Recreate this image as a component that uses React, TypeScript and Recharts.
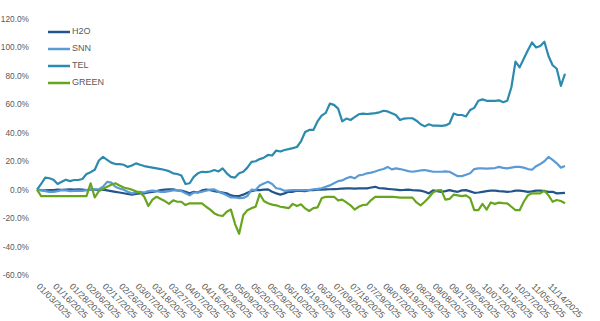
import React from "react";
import { LineChart, Line, XAxis, YAxis } from "recharts";

// values in % (daily points, one x label every 4 points)
const H2O = [
  0, -0.3, -0.5, -0.3, -0.3, 0, -0.2, 0, 0.2, 0,
  0.2, 0, -0.3, 0, 0, -0.3, 0, -0.5, -1, -1.5,
  -2, -2.5, -3, -3.5, -3, -2.6, -2.6, -2, -1.5, -1,
  -0.3, 0, 0.2, 0.2, -0.5, -0.7, -1.5, -2.6, -1.5, -2,
  -0.5, 0, -0.3, -1, -1.5, -2, -2.5, -4, -4.5, -4.5,
  -3.5, -2.2, -1, -0.3, -0.3, 0, 0.2, -1.5, -2.6, -3.5,
  -2.6, -1.5, -1.5, -0.7, -0.8, -1, -0.3, -0.3, 0, 0,
  0.2, 0.3, 0.4, 0.5, 0.8, 0.9, 0.9, 0.7, 0.9, 0.9,
  0.9, 1.5, 2, 1, 0.9, 0.5, 0.3, 0, -0.3, -0.2,
  0, -0.3, -0.5, -0.7, -1.5, -2.6, -0.5, -1, -1.5, -1,
  -0.3, -1, -1.5, -0.5, -0.3, -1.2, -2.2, -2, -1.5, -1,
  -0.7, -0.7, -1, -1.2, -1.5, -1.3, -0.7, -0.7, -1, -1.5,
  -1.2, -0.7, -0.7, -1, -1.5, -1.5, -2.6, -2.4, -2.2,
];

const SNN = [
  0, -0.5, -1, -1.5, -1.5, -1, -0.3, -0.5, -1, -0.8,
  -0.7, -0.8, -0.3, 0, 0.2, 0.4, 2, 5.5, 5, 2,
  0.8, 0, -1.5, -2.6, -2, -1.5, -2, -1, -0.7, -1,
  -1.5, -1.5, -1, -0.5, -0.3, -1, -2.6, -4, -2, -2,
  -1.5, -0.8, 0, 0.2, -1.5, -2.6, -4, -5.5, -5.5, -6,
  -5.8, -4.5, 0, -0.3, 3, 4.4, 5.5, 4, 1, 0.5,
  -0.8, -0.5, -0.3, -0.3, -0.3, -0.3, -0.3, 0.3, 0.6, 1,
  2, 3, 4.5, 6, 6.5, 8, 9, 8, 10, 10.5,
  11.5, 12, 12.8, 13.8, 14.5, 16, 14.3, 15, 14.5, 13.8,
  13, 12.6, 13, 13.5, 13.8, 13.2, 12.6, 12.6, 12.6, 12.8,
  12.6, 11, 9.5, 9.5, 10.5, 11.5, 14.5, 15, 15, 14.8,
  15, 15.2, 16, 15.3, 15, 15.5, 16, 16, 15.5, 14.5,
  14, 16.5, 18, 20, 23, 21, 18.5, 15.5, 16.6,
];

const TEL = [
  0, 4, 8.5, 8, 7, 4, 5.5, 7, 6, 6.8,
  6.8, 7.5, 11, 12.3, 14, 20.5, 23, 21, 19, 18,
  18, 17.5, 16, 17, 18.5, 17.5, 16.6, 16, 15.5, 15,
  14.5, 13.8, 13, 11.5, 11, 10, 4, 4.5, 9, 11.5,
  12.6, 12.3, 12.8, 13.8, 12.8, 15, 11.5, 9, 8.5, 11.5,
  12.6, 15.5, 19.5, 20, 21.5, 22.5, 24.4, 24, 27.5, 26.8,
  27.9, 28.5, 29.2, 30, 34, 40.5, 42, 42, 48, 52,
  54, 60.5, 59.6, 57, 48, 50, 49, 51, 53, 53.5,
  53.2, 53.5, 53.8, 54.4, 55.5, 55, 53.8, 52.5, 49, 50,
  50.2, 50.2, 48.5, 46, 44.5, 46, 45, 45, 44.8, 45.2,
  46.5, 53.5, 52.5, 52.5, 51.5, 56, 57.5, 62.5, 63.5, 62.5,
  62.4, 62.4, 62.8, 61.5, 62.5, 72, 90, 86, 92, 98,
  103.5, 100, 101, 104, 94, 87.5, 85, 73, 81.5,
];

const GREEN = [
  0, -4.5, -4.5, -4.5, -4.5, -4.5, -4.5, -4.5, -4.5, -4.5,
  -4.5, -4.5, -4.5, 4.5, -5.5, -1, 0.5, 2, 3.5, 4.5,
  3, 1.5, 0.8, 0, -1.2, -2, -5, -11.5, -7, -5,
  -6.5, -8, -10, -7.5, -8.5, -8.5, -10.8, -9.6, -9.6, -9.6,
  -9.6, -12, -14, -16.7, -18, -18.5, -15.5, -14, -24, -31,
  -18, -14.4, -13, -12, -3, -8, -9.6, -10.5, -11, -12,
  -12.5, -13, -10, -11.5, -10.3, -13.2, -15, -13, -12.5, -6.1,
  -5, -5, -5, -7.5, -7, -9, -11, -14, -12, -10.8,
  -10.5, -7.3, -5, -5, -5, -5, -5, -5.3, -5.6, -5.6,
  -5.6, -5.6, -9, -11, -8.5, -5.5, -2, -0.5, -0.3, -7,
  -6.5, -3.5, -4, -4.5, -4, -6, -14.4, -14.4, -10, -14,
  -9, -10, -9.1, -9.4, -9.6, -12, -14.4, -14.4, -8.5, -4,
  -2.6, -2.6, -2.6, -0.7, -4, -8.5, -7.3, -8, -9.6,
];

const DATES = [
  "01/03/2025", "01/16/2025", "01/28/2025", "02/06/2025", "02/17/2025", "02/26/2025",
  "03/07/2025", "03/18/2025", "03/27/2025", "04/07/2025", "04/16/2025", "04/29/2025",
  "05/09/2025", "05/20/2025", "05/29/2025", "06/10/2025", "06/19/2025", "06/30/2025",
  "07/09/2025", "07/18/2025", "07/29/2025", "08/07/2025", "08/19/2025", "08/28/2025",
  "09/08/2025", "09/17/2025", "09/26/2025", "10/07/2025", "10/16/2025", "10/27/2025",
  "11/05/2025", "11/14/2025",
];
const LABEL_STEP = 4;
const Y_TICKS = [-60, -40, -20, 0, 20, 40, 60, 80, 100, 120];

const SERIES = [
  { key: "H2O", color: "#23558C" },
  { key: "SNN", color: "#5B9BD5" },
  { key: "TEL", color: "#2B8AAD" },
  { key: "GREEN", color: "#68A51F" },
];

const data = TEL.map((_, i) => ({
  i,
  H2O: H2O[i],
  SNN: SNN[i],
  TEL: TEL[i],
  GREEN: GREEN[i],
}));

const xTicks = DATES.map((_, k) => k * LABEL_STEP);
const FONT = "'Liberation Sans', Arial, sans-serif";
const GREY = "#595959";

function DateTick({ x, payload }: any) {
  const label = DATES[payload.value / LABEL_STEP] ?? "";
  const tx = x - 1;
  const ty = 287;
  return (
    <text
      x={tx}
      y={ty}
      transform={`rotate(45 ${tx} ${ty})`}
      textAnchor="start"
      fontSize={9}
      fontFamily={FONT}
      fill={GREY}
    >
      {label}
    </text>
  );
}

// legend drawn as a plain overlay so it takes no room from the plot
function ChartLegend() {
  return (
    <div style={{ position: "absolute", left: 48, top: 23, fontFamily: FONT, fontSize: 9, color: GREY, lineHeight: "17px" }}>
      {SERIES.map((s) => (
        <div key={s.key} style={{ display: "flex", alignItems: "center", height: 17 }}>
          <svg width={23} height={4} style={{ marginRight: 1 }}>
            <line x1={0} y1={2} x2={22} y2={2} stroke={s.color} strokeWidth={2.5} />
          </svg>
          <span>{s.key}</span>
        </div>
      ))}
    </div>
  );
}

export default function App() {
  return (
    <div style={{ position: "absolute", left: 0, top: 0, width: 600, height: 321, background: "#fff" }}>
      <LineChart width={600} height={321} data={data} margin={{ top: 19, right: 35, bottom: 0, left: 0 }}>
        <XAxis
          dataKey="i"
          type="number"
          domain={[0, TEL.length - 1]}
          ticks={xTicks}
          interval={0}
          tick={<DateTick />}
          axisLine={false}
          tickLine={false}
          height={46}
        />
        <YAxis
          domain={[-60, 120]}
          ticks={Y_TICKS}
          width={37}
          axisLine={false}
          tickLine={false}
          tick={{ fontSize: 8.3, fill: GREY, fontFamily: FONT }}
          tickFormatter={(v: number) => `${v.toFixed(1)}%`}
          allowDataOverflow
        />
        {SERIES.map((s) => (
          <Line
            key={s.key}
            type="linear"
            dataKey={s.key}
            stroke={s.color}
            strokeWidth={2.2}
            dot={false}
            activeDot={false}
            isAnimationActive={false}
            strokeLinejoin="round"
          />
        ))}
      </LineChart>
      <ChartLegend />
    </div>
  );
}
